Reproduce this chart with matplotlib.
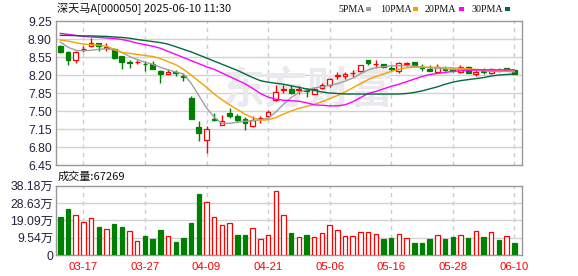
import matplotlib
matplotlib.use('Agg')
import matplotlib.pyplot as plt
from matplotlib.patches import Rectangle
import numpy as np

# ---------------- data ----------------
dates = ['03-12', '03-13', '03-14', '03-17', '03-18', '03-19', '03-20', '03-21', '03-24', '03-25',
         '03-26', '03-27', '03-28', '03-31', '04-01', '04-02', '04-03', '04-07', '04-08', '04-09',
         '04-10', '04-11', '04-14', '04-15', '04-16', '04-17', '04-18', '04-21', '04-22', '04-23',
         '04-24', '04-25', '04-28', '04-29', '04-30', '05-06', '05-07', '05-08', '05-09', '05-12',
         '05-13', '05-14', '05-15', '05-16', '05-19', '05-20', '05-21', '05-22', '05-23', '05-26',
         '05-27', '05-28', '05-29', '05-30', '06-03', '06-04', '06-05', '06-06', '06-09', '06-10']
tick_dates = ['03-17', '03-27', '04-09', '04-21', '05-06', '05-16', '05-28', '06-10']

open_ = [8.77, 8.65, 8.50, 8.70, 8.76, 8.82, 8.73, 8.71, 8.56, 8.45, 8.45, 8.42, 8.42, 8.28, 8.21,
         8.25, 8.18, 7.75, 7.19, 6.94, 7.34, 7.23, 7.47, 7.40, 7.35, 7.20, 7.36, 7.40, 7.71, 7.91,
         7.93, 7.91, 7.90, 7.83, 7.95, 8.00, 8.19, 8.18, 8.23, 8.27, 8.49, 8.41, 8.41, 8.33, 8.28,
         8.42, 8.45, 8.35, 8.31, 8.25, 8.31, 8.32, 8.25, 8.36, 8.21, 8.27, 8.23, 8.30, 8.33, 8.30]
close = [8.65, 8.50, 8.65, 8.71, 8.82, 8.76, 8.74, 8.54, 8.45, 8.44, 8.46, 8.41, 8.32, 8.21, 8.26,
         8.24, 8.17, 7.35, 7.07, 7.15, 7.32, 7.30, 7.40, 7.33, 7.27, 7.33, 7.37, 7.48, 7.87, 7.92,
         7.85, 7.92, 7.89, 7.92, 8.00, 8.12, 8.20, 8.22, 8.24, 8.39, 8.43, 8.42, 8.35, 8.32, 8.43,
         8.43, 8.40, 8.34, 8.27, 8.36, 8.30, 8.27, 8.36, 8.23, 8.26, 8.26, 8.32, 8.29, 8.29, 8.22]
high = [8.79, 8.66, 8.67, 8.76, 8.92, 8.83, 8.82, 8.72, 8.56, 8.50, 8.50, 8.48, 8.47, 8.29, 8.32,
        8.30, 8.24, 7.79, 7.30, 7.20, 7.46, 7.42, 7.56, 7.44, 7.38, 7.40, 7.41, 7.51, 8.01, 8.00,
        8.00, 7.99, 7.94, 7.97, 8.05, 8.14, 8.26, 8.26, 8.30, 8.40, 8.49, 8.49, 8.42, 8.37, 8.46,
        8.46, 8.46, 8.41, 8.39, 8.41, 8.37, 8.34, 8.39, 8.37, 8.31, 8.33, 8.34, 8.33, 8.34, 8.31]
low = [8.62, 8.40, 8.43, 8.65, 8.74, 8.66, 8.67, 8.52, 8.32, 8.34, 8.42, 8.27, 8.32, 8.04, 8.21,
       8.19, 8.08, 7.35, 6.92, 6.68, 7.30, 7.22, 7.36, 7.29, 7.14, 7.19, 7.27, 7.37, 7.70, 7.85,
       7.84, 7.84, 7.78, 7.83, 7.92, 7.97, 8.13, 8.13, 8.17, 8.25, 8.39, 8.33, 8.33, 8.27, 8.23,
       8.38, 8.38, 8.28, 8.27, 8.23, 8.27, 8.25, 8.23, 8.23, 8.18, 8.22, 8.22, 8.26, 8.28, 8.21]

ma5 = [8.84, 8.74, 8.68, 8.67, 8.68, 8.70, 8.71, 8.69, 8.64, 8.56, 8.50, 8.45, 8.41, 8.35, 8.30,
       8.26, 8.22, 8.04, 7.80, 7.56, 7.38, 7.26, 7.26, 7.28, 7.30, 7.31, 7.33, 7.36, 7.48, 7.63,
       7.76, 7.86, 7.91, 7.95, 7.97, 8.00, 8.03, 8.08, 8.14, 8.22, 8.30, 8.34, 8.36, 8.38, 8.38,
       8.38, 8.37, 8.36, 8.34, 8.33, 8.32, 8.31, 8.31, 8.30, 8.29, 8.28, 8.27, 8.27, 8.27, 8.26]
ma10 = [8.88, 8.86, 8.83, 8.80, 8.79, 8.78, 8.76, 8.70, 8.64, 8.62, 8.60, 8.58, 8.56, 8.52, 8.46,
        8.40, 8.31, 8.20, 8.08, 7.96, 7.83, 7.72, 7.62, 7.53, 7.44, 7.37, 7.32, 7.33, 7.37, 7.44,
        7.50, 7.55, 7.59, 7.63, 7.68, 7.74, 7.80, 7.87, 7.95, 8.03, 8.11, 8.17, 8.22, 8.27, 8.31,
        8.34, 8.35, 8.35, 8.35, 8.35, 8.34, 8.34, 8.33, 8.32, 8.31, 8.30, 8.30, 8.29, 8.29, 8.28]
ma20 = [9.01, 8.99, 8.97, 8.95, 8.94, 8.93, 8.92, 8.91, 8.89, 8.86, 8.82, 8.79, 8.76, 8.72, 8.66,
        8.60, 8.54, 8.48, 8.42, 8.36, 8.31, 8.24, 8.17, 8.10, 8.03, 7.94, 7.84, 7.77, 7.73, 7.71,
        7.70, 7.69, 7.66, 7.62, 7.61, 7.60, 7.60, 7.62, 7.68, 7.76, 7.84, 7.88, 7.93, 7.98, 8.02,
        8.07, 8.12, 8.17, 8.21, 8.23, 8.25, 8.27, 8.28, 8.29, 8.30, 8.30, 8.30, 8.30, 8.30, 8.30]
ma30 = [8.97, 8.97, 8.965, 8.96, 8.96, 8.955, 8.95, 8.94, 8.93, 8.915, 8.89, 8.87, 8.85, 8.83, 8.80,
        8.75, 8.70, 8.65, 8.59, 8.53, 8.47, 8.41, 8.35, 8.29, 8.22, 8.15, 8.09, 8.06, 8.04, 8.02,
        7.99, 7.96, 7.93, 7.90, 7.87, 7.85, 7.84, 7.83, 7.83, 7.83, 7.83, 7.83, 7.83, 7.83, 7.83,
        7.84, 7.86, 7.89, 7.93, 7.97, 8.02, 8.06, 8.09, 8.11, 8.13, 8.15, 8.18, 8.20, 8.21, 8.22]

# volume in units of 万 (10k shares)
volume = [20.9, 25.3, 22.0, 18.2, 20.2, 15.4, 14.1, 17.1, 15.4, 13.0, 7.7, 10.5, 8.8, 13.8, 10.3,
          7.3, 9.4, 17.6, 33.6, 29.0, 20.8, 16.3, 17.6, 11.0, 11.0, 14.7, 8.8, 10.8, 35.1, 21.9,
          12.3, 9.7, 11.0, 9.7, 12.1, 16.3, 13.6, 10.3, 10.3, 12.7, 12.7, 11.4, 8.8, 9.4, 11.4,
          9.2, 6.6, 6.6, 8.8, 10.8, 8.8, 9.9, 10.8, 9.4, 13.0, 9.9, 12.7, 8.3, 10.3, 6.7269]
# 1 = up day (red), 0 = down day (green) for the volume bars
vol_up = [0, 0, 1, 1, 1, 0, 1, 0, 0, 1, 1, 0, 0, 0, 1, 0, 0, 0, 0, 1, 1, 1, 1, 0, 0, 1, 1, 1, 1, 1,
          0, 1, 0, 1, 1, 1, 1, 1, 1, 1, 1, 1, 0, 0, 1, 1, 0, 0, 0, 1, 0, 0, 1, 0, 1, 0, 1, 0, 1, 0]

price_ticks = [6.45, 6.80, 7.15, 7.50, 7.85, 8.20, 8.55, 8.90, 9.25]
vol_ticks = [0, 9.545, 19.09, 28.635, 38.18]
vol_tick_labels = ['0', '9.54万', '19.09万', '28.63万', '38.18万']
last_volume = 67269

title = '深天马A[000050] 2025-06-10 11:30'
ma_names = ['5PMA', '10PMA', '20PMA', '30PMA']
watermark = '东方财富'

# ---------------- styling ----------------
RED = '#ff0000'
GREEN = '#008000'
MA_COLORS = ['#a0a0a0', '#f5a100', '#ff00ff', '#006b3c']
FRAME = '#999999'
GRID = '#d2d2d2'
TXT = '#222240'
NUMFONT = ['Liberation Sans', 'Noto Sans CJK SC', 'DejaVu Sans']
CJKFONT = ['Noto Sans CJK SC', 'DejaVu Sans']

W, H = 578, 276
fig = plt.figure(figsize=(W / 100, H / 100), dpi=100)
fig.patch.set_facecolor('white')


def fx(px):
    return px / W


def fy(py):
    return 1 - py / H


L, R = 56, 522
ax = fig.add_axes([fx(L), fy(165), fx(R) - fx(L), fy(21) - fy(165)])
axv = fig.add_axes([fx(L), fy(255), fx(R) - fx(L), fy(185.7) - fy(255)])

n = len(close)
x = np.arange(n)
o = np.array(open_)
c = np.array(close)
hi = np.array(high)
lo = np.array(low)
up = c >= o
xlim = (-0.56, 60.0)
tick_idx = [dates.index(d) for d in tick_dates]

for a in (ax, axv):
    a.set_xlim(*xlim)
    for s in a.spines.values():
        s.set_color(FRAME)
        s.set_linewidth(1.0)
    for t in tick_idx:
        a.axvline(t, color='#cccccc', lw=1, ls=(0, (3, 3)), zorder=0)
    a.tick_params(length=0)

# faint watermark in the middle of the price panel (axes coordinates)
ax.text(0.54, 0.52, watermark, fontsize=31, fontweight='bold', color='#eaeaee',
        family=CJKFONT, ha='center', va='center', zorder=0.5, transform=ax.transAxes)

# price axis
ax.set_ylim(6.45, 9.25)
ax.set_yticks(price_ticks)
ax.set_yticklabels(['%.2f' % v for v in price_ticks], fontsize=8.8, color=TXT, family=NUMFONT)
ax.tick_params(axis='y', pad=3)
ax.set_xticks([])
for v in price_ticks[1:-1]:
    ax.axhline(v, color=GRID, lw=1, zorder=0)

edge = np.where(up, RED, GREEN)
face = np.where(up, 'white', GREEN)
ax.vlines(x, lo, hi, colors=edge, lw=1, zorder=2)
body_bottom = np.minimum(o, c)
body_h = np.maximum(np.abs(c - o), 0.0005)
ax.bar(x, body_h, bottom=body_bottom, width=0.62, color=face, edgecolor=edge,
       linewidth=0.9, zorder=3)

for vals, col in zip([ma5, ma10, ma20, ma30], MA_COLORS):
    ax.plot(x, vals, color=col, lw=1.0, zorder=4)

# volume axis
axv.set_ylim(0, 38.18)
axv.set_yticks(vol_ticks)
axv.set_yticklabels(vol_tick_labels, fontsize=8.8, color=TXT, family=NUMFONT)
axv.tick_params(axis='y', pad=2)
for v in vol_ticks[1:-1]:
    axv.axhline(v, color=GRID, lw=1, zorder=0)
vu = np.array(vol_up).astype(bool)
axv.bar(x, volume, width=0.58, color=np.where(vu, 'white', GREEN),
        edgecolor=np.where(vu, RED, GREEN), linewidth=0.9, zorder=3)
axv.set_xticks(tick_idx)
axv.set_xticklabels(tick_dates, fontsize=8.2, color=RED, family=NUMFONT)
axv.tick_params(axis='x', pad=5)

# texts
fig.text(fx(57), fy(9), title, fontsize=8, color='#111111', family=CJKFONT, va='center', ha='left')
fig.text(fx(58), fy(177), '成交量:%d' % last_volume, fontsize=8, color='#111111',
         family=CJKFONT, va='center', ha='left')

leg_x = [338, 380, 425, 472]
for name, col, lx in zip(ma_names, MA_COLORS, leg_x):
    fig.text(fx(lx), fy(9), name, fontsize=7.2, color='#111111',
             family=['Liberation Serif', 'DejaVu Serif'], va='center', ha='left')
sq_x = [366, 413, 459, 505]
for col, sx in zip(MA_COLORS, sq_x):
    fig.patches.append(Rectangle((fx(sx), fy(11)), 5 / W, 4 / H, transform=fig.transFigure,
                                 facecolor=col, edgecolor='none'))

fig.savefig('out.png', dpi=100)
